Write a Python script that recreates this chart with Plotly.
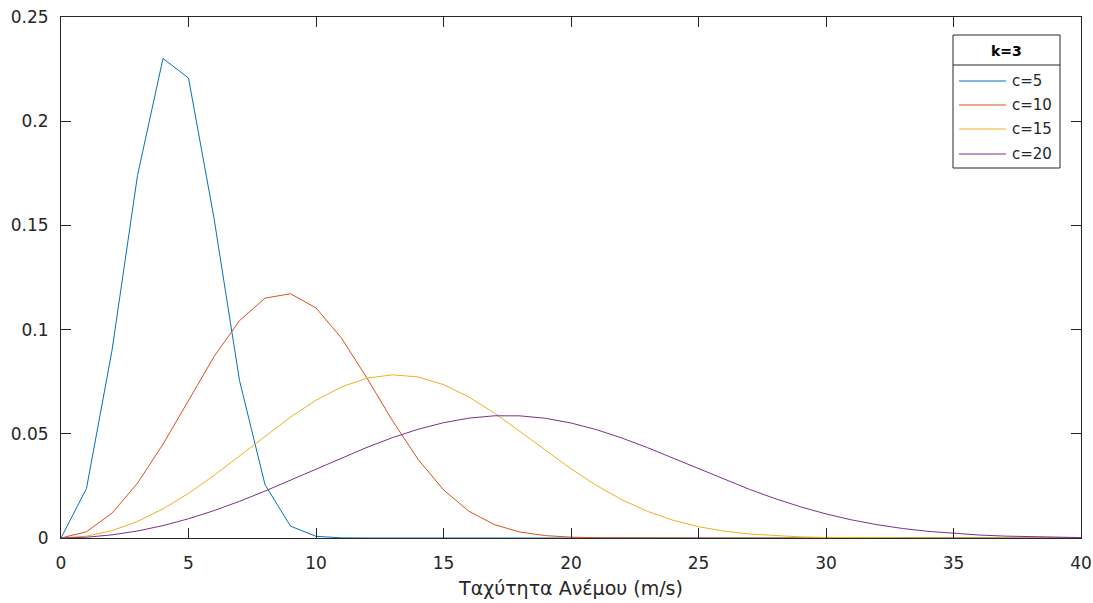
import plotly.graph_objects as go

x_vals = list(range(0, 41))

c5 = [0, 0.0238, 0.0900, 0.1740, 0.2301, 0.2207, 0.1535, 0.0756, 0.0256, 0.0057,
      0.0008, 0.00007] + [0] * 29
c10 = [0, 0.0030, 0.0119, 0.0263, 0.0450, 0.0662, 0.0870, 0.1043, 0.1151, 0.1172,
       0.1104, 0.0959, 0.0767, 0.0563, 0.0378, 0.0231, 0.0128, 0.0064, 0.00285, 0.00114,
       0.0004, 0.00013, 0.00003] + [0] * 18
c15 = [0, 0.00089, 0.00355, 0.00794, 0.01396, 0.02141, 0.03002, 0.03935, 0.04888, 0.05801,
       0.0661, 0.0725, 0.0767, 0.0783, 0.0773, 0.0736, 0.0676, 0.0599, 0.0511, 0.0420,
       0.0332, 0.0252, 0.01835, 0.01278, 0.00852, 0.00542, 0.00329, 0.0019, 0.00104, 0.00054,
       0.00027, 0.000125, 0.00005, 0.00002] + [0] * 7
c20 = [0, 0.000375, 0.0015, 0.00336, 0.00595, 0.00923, 0.01314, 0.0176, 0.02251, 0.02773,
       0.0331, 0.03842, 0.04351, 0.04816, 0.05216, 0.05533, 0.05753, 0.05864, 0.05861, 0.05744,
       0.05518, 0.05198, 0.04796, 0.04334, 0.03836, 0.03324, 0.02817, 0.02334, 0.0189, 0.01496,
       0.01155, 0.0087, 0.00639, 0.00457, 0.00319, 0.00216, 0.00143, 0.00091, 0.00057, 0.00034,
       0.0002]

series_names = ["c=5", "c=10", "c=15", "c=20"]
series_vals = [c5, c10, c15, c20]
colors = ["#0072BD", "#D95319", "#EDB120", "#7E2F8E"]
legend_title = "k=3"

x_ticks = [0, 5, 10, 15, 20, 25, 30, 35, 40]
y_ticks = [0, 0.05, 0.1, 0.15, 0.2, 0.25]
y_tick_text = ["0", "0.05", "0.1", "0.15", "0.2", "0.25"]

W, H = 1093, 603
ML, MR, MT, MB = 61, 12, 17, 65
PW, PH = W - ML - MR, H - MT - MB


def px(xp):
    return (xp - ML) / PW


def py(yp):
    return (H - MB - yp) / PH


fig = go.Figure()
for name, vals, col in zip(series_names, series_vals, colors):
    fig.add_trace(go.Scatter(x=x_vals, y=vals, mode="lines", name=name,
                             line=dict(color=col, width=1), showlegend=False))

axis_col = "#262626"
font_fam = "DejaVu Sans, Liberation Sans, Arial, sans-serif"

# legend box drawn manually (MATLAB style with title separator)
shapes = [
    dict(type="rect", xref="paper", yref="paper", x0=px(953), x1=px(1060), y0=py(168), y1=py(35),
         line=dict(color=axis_col, width=1), fillcolor="white", layer="above"),
    dict(type="line", xref="paper", yref="paper", x0=px(953), x1=px(1060), y0=py(65), y1=py(65),
         line=dict(color=axis_col, width=1), layer="above"),
]
annotations = [
    dict(text="<b>" + legend_title + "</b>", xref="paper", yref="paper", x=px(1006.5), y=py(51),
         xanchor="center", yanchor="middle", showarrow=False, font=dict(size=14, color="black")),
]
item_y = [81, 105, 129, 154]
for name, col, yy in zip(series_names, colors, item_y):
    shapes.append(dict(type="line", xref="paper", yref="paper", x0=px(959), x1=px(1006),
                       y0=py(yy), y1=py(yy), line=dict(color=col, width=1), layer="above"))
    annotations.append(dict(text=name, xref="paper", yref="paper", x=px(1010), y=py(yy),
                            xanchor="left", yanchor="middle", showarrow=False,
                            font=dict(size=15, color=axis_col)))

fig.update_layout(
    width=W, height=H,
    margin=dict(l=ML, r=MR, t=MT, b=MB),
    paper_bgcolor="white", plot_bgcolor="white",
    font=dict(family=font_fam, size=17, color=axis_col),
    showlegend=False,
    shapes=shapes,
    annotations=annotations,
    xaxis=dict(
        range=[0, 40], tickvals=x_ticks, ticktext=[str(t) for t in x_ticks],
        showline=True, mirror="ticks", linecolor=axis_col, linewidth=1,
        ticks="inside", ticklen=10, tickcolor=axis_col, tickwidth=1,
        ticklabelstandoff=10, automargin=False,
        showgrid=False, zeroline=False,
        title=dict(text="Ταχύτητα Ανέμου (m/s)", font=dict(size=19, color=axis_col), standoff=9),
    ),
    yaxis=dict(
        range=[0, 0.25], tickvals=y_ticks, ticktext=y_tick_text,
        showline=True, mirror="ticks", linecolor=axis_col, linewidth=1,
        ticks="inside", ticklen=10, tickcolor=axis_col, tickwidth=1,
        ticklabelstandoff=8, automargin=False,
        showgrid=False, zeroline=False,
    ),
)

fig.write_html("out.html")
